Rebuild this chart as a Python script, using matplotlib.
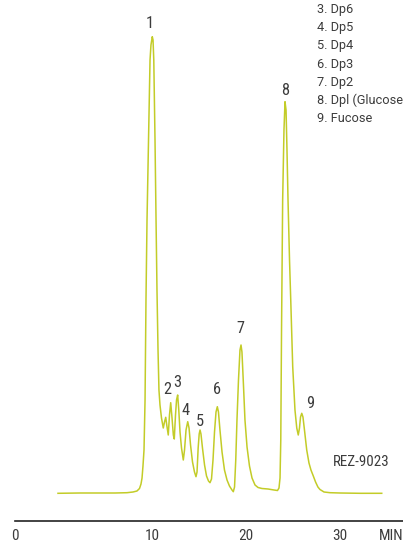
import matplotlib.pyplot as plt
import numpy as np

# chromatogram trace: retention time (min) vs detector response (arb. units)
time_min = [
    0.00, 2.34, 4.47, 6.06, 7.34, 7.98, 8.40, 8.67, 8.83, 8.94, 9.04, 9.15,
    9.26, 9.36, 9.47, 9.63, 9.79, 9.89, 10.03, 10.11, 10.19, 10.32, 10.43,
    10.53, 10.64, 10.74, 10.85, 11.01, 11.20, 11.33, 11.46, 11.57, 11.73,
    11.86, 11.99, 12.13, 12.27, 12.37, 12.50, 12.61, 12.73, 12.85, 12.98,
    13.14, 13.33, 13.46, 13.62, 13.80, 13.94, 14.10, 14.31, 14.52, 14.68,
    14.79, 14.91, 15.02, 15.11, 15.21, 15.37, 15.59, 15.80, 16.01, 16.17,
    16.33, 16.49, 16.65, 16.81, 16.95, 17.07, 17.23, 17.45, 17.71, 17.98,
    18.24, 18.51, 18.65, 18.78, 18.91, 19.04, 19.20, 19.36, 19.47, 19.57,
    19.73, 19.89, 20.11, 20.37, 20.64, 20.96, 21.28, 21.70, 22.34, 22.98,
    23.35, 23.51, 23.62, 23.70, 23.78, 23.90, 24.04, 24.15, 24.26, 24.36,
    24.47, 24.63, 24.76, 24.97, 25.21, 25.40, 25.56, 25.69, 25.80, 25.93,
    26.06, 26.22, 26.46, 26.70, 26.91, 27.16, 27.40, 27.65, 27.87, 28.30, 28.94,
    30.00, 32.13, 34.44,
]
response = [
    -0.3, 0.0, 0.0, 0.0, 0.3, 1.0, 2.0, 4.5, 9.0, 15.0, 27.0, 43.0,
    93.0, 193.0, 273.0, 353.0, 433.0, 448.0, 456.3, 453.0, 433.0, 353.0, 273.0,
    203.0, 143.0, 103.0, 88.0, 75.0, 65.0, 71.0, 75.7, 68.0, 58.0,
    78.0, 90.3, 75.0, 58.0, 54.0, 78.0, 93.0, 98.0, 83.0, 61.0,
    45.0, 33.0, 43.0, 63.0, 71.3, 65.0, 48.0, 31.0, 21.0, 16.3,
    21.0, 45.0, 59.0, 63.0, 59.0, 45.0, 28.0, 17.0, 12.0, 10.3,
    14.0, 33.0, 61.0, 81.0, 86.3, 81.0, 63.0, 41.0, 23.0, 13.0,
    7.0, 3.0, 1.3, 6.0, 33.0, 73.0, 113.0, 143.0, 148.0, 141.0,
    108.0, 73.0, 46.0, 27.0, 15.0, 8.0, 5.5, 4.5, 4.0, 3.0,
    2.5, 5.0, 15.0, 53.0, 163.0, 293.0, 363.0, 391.3, 383.0, 343.0,
    293.0, 233.0, 193.0, 126.3, 83.0, 65.0, 58.0, 65.0, 76.0, 79.7,
    76.0, 63.0, 43.0, 30.0, 23.0, 17.0, 11.0, 6.0, 3.5, 1.0, 0.3,
    0.0, -0.3, -0.3,
]

# peak number labels, centred just above each peak
peak_ids = ["1", "2", "3", "4", "5", "6", "7", "8", "9"]
peak_label_t = [9.79, 11.60, 12.66, 13.56, 15.11, 16.91, 19.39, 24.20, 26.78]
peak_label_r = [471, 105, 112, 84, 73, 104.5, 165.5, 404, 91]

peak_names = ["3. Dp6", "4. Dp5", "5. Dp4", "6. Dp3", "7. Dp2",
              "8. Dpl (Glucose)", "9. Fucose"]

tick_pos = [-4.57, 10, 20, 30, 35.4]
tick_text = ["0", "10", "20", "30", "MIN"]

trace_color = "#c3cc28"
text_color = "#3c3c3c"
narrow = ["Roboto Condensed", "Roboto", "DejaVu Sans"]
regular = ["Roboto", "DejaVu Sans"]

W, H = 403, 543
fig = plt.figure(figsize=(W / 100, H / 100), dpi=100)
ax = fig.add_axes([15 / W, 22 / H, 1 - 15 / W, 1 - 22 / H])

ax.plot(time_min, response, color=trace_color, lw=1.1, solid_joinstyle="round")

# label baseline sits ~6 units below its visual centre
for pid, t, r in zip(peak_ids, peak_label_t, peak_label_r):
    ax.text(t, r - 5.8, pid, ha="center", va="baseline", fontsize=11.8,
            color=text_color, family=narrow)

ax.set_xlim((15 - 58) / 9.4, (W - 58) / 9.4)
ax.set_ylim(-28, 493)

for side in ["top", "right", "left"]:
    ax.spines[side].set_visible(False)
ax.spines["bottom"].set_linewidth(1.2)
ax.spines["bottom"].set_color("#222222")
ax.set_yticks([])
ax.set_xticks(tick_pos)
ax.set_xticklabels(tick_text, fontsize=11, color=text_color, family=narrow)
ax.tick_params(axis="x", length=0, pad=6)

# compound key in the upper-right corner
for i, name in enumerate(peak_names):
    fig.text(316.7 / W, 1 - (13.3 + 18.1 * i) / H, name, ha="left",
             va="baseline", fontsize=9.2, color=text_color, family=regular)

fig.text(361 / W, 1 - 466.4 / H, "REZ-9023", ha="center", va="baseline",
         fontsize=10.8, color=text_color, family=narrow)

fig.savefig("out.png", dpi=100)
